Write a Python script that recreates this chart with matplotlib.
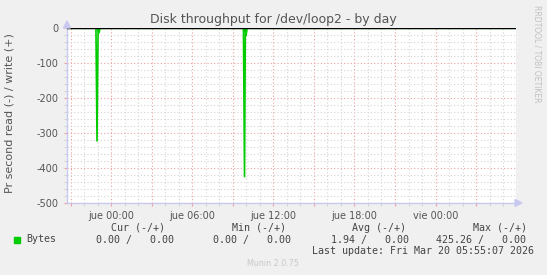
import matplotlib
matplotlib.use("Agg")
import matplotlib.pyplot as plt
from matplotlib.patches import Polygon, Rectangle

# hours relative to jue 00:00, read bytes/s (plotted negative), write bytes/s
hours = [-3.26, -1.12, -1.04, -0.96, -0.89, -0.82, 9.79, 9.87, 9.93, 9.99, 10.06, 29.95]
read_bytes = [0, 0, 323, 0, 13, 0, 0, 425.26, 0, 20, 0, 0]
write_bytes = [0, 0, 0, 0, 0, 0, 0, 0, 0, 0, 0, 0]

y_ticks = [0, -100, -200, -300, -400, -500]
x_label_hours = [0, 6, 12, 18, 24]
x_labels = ["jue 00:00", "jue 06:00", "jue 12:00", "jue 18:00", "vie 00:00"]

legend_headers = ["Cur (-/+)", "Min (-/+)", "Avg (-/+)", "Max (-/+)"]
legend_values = ["0.00 /   0.00", "0.00 /   0.00", "1.94 /   0.00", "425.26 /   0.00"]

W, H = 547, 275
BG = "#f0f0f0"
GREEN = "#00cc00"
AXIS = "#c8c8f0"
TXT = "#555555"

fig = plt.figure(figsize=(W / 100, H / 100), dpi=100, facecolor=BG)

def px(x, y):
    return x / W, 1 - y / H

ax = fig.add_axes([67 / W, 1 - 202.7 / H, 449 / W, (202.7 - 28.3) / H])
ax.set_facecolor("white")
ax.set_xlim(-3.26, 29.95)
ax.set_ylim(-500, 0)

# grid
ax.set_xticks([h for h in range(-3, 30)], minor=True)
ax.set_xticks([h for h in range(-3, 30, 3)])
ax.set_xticklabels([x_labels[x_label_hours.index(h)] if h in x_label_hours else ""
                    for h in range(-3, 30, 3)])
ax.set_yticks(range(-500, 1, 20), minor=True)
ax.set_yticks(y_ticks)
ax.set_yticklabels([str(v) for v in y_ticks])
ax.grid(which="minor", color="#d4d4d4", linestyle=(0, (1, 2)), linewidth=0.8)
ax.grid(which="major", color="#eea0a0", linestyle=(0, (1, 2)), linewidth=0.8)
ax.set_axisbelow(True)
ax.tick_params(which="both", length=2, width=0.8, color="#eea0a0", labelsize=7,
               labelcolor=TXT, pad=4)
ax.tick_params(which="minor", color="#d4d4d4")

for s in ["top", "right"]:
    ax.spines[s].set_visible(False)
for s in ["left", "bottom"]:
    ax.spines[s].set_color(AXIS)
    ax.spines[s].set_linewidth(1)

ax.plot(hours, [-v for v in read_bytes], color=GREEN, lw=1.2, zorder=3)
ax.plot(hours, write_bytes, color=GREEN, lw=1.2, zorder=3)
ax.axhline(0, color="black", lw=1, zorder=4)

# axis arrows
fig.patches.append(Polygon([px(63.5, 28), px(70.5, 28), px(67, 21)], closed=True,
                           transform=fig.transFigure, color=AXIS))
fig.patches.append(Polygon([px(515, 199.5), px(515, 206.5), px(522, 203)], closed=True,
                           transform=fig.transFigure, color=AXIS))

fig.text(*px(273, 19), "Disk throughput for /dev/loop2 - by day", ha="center", va="center",
         fontsize=9, color=TXT)
fig.text(*px(10, 113.5), "Pr second read (-) / write (+)", rotation=90, ha="center",
         va="center", fontsize=8, color=TXT)
fig.text(*px(537, 53.5), "RRDTOOL / TOBI OETIKER", rotation=270, ha="center", va="center",
         fontsize=5.5, color="#c0c0c0")

mono = dict(family="DejaVu Sans Mono", fontsize=7.2, color="#444444", va="center")
fig.patches.append(Rectangle(px(14, 243), 6 / W, 6 / H, transform=fig.transFigure,
                             color=GREEN))
fig.text(*px(26.5, 239.5), "Bytes", **mono)
header_x = [110.7, 231.7, 352, 472.7]
value_x = [95.7, 212.7, 331, 436]
for hx, htxt in zip(header_x, legend_headers):
    fig.text(*px(hx, 228), htxt, **mono)
for vx, vtxt in zip(value_x, legend_values):
    fig.text(*px(vx, 239.5), vtxt, **mono)
fig.text(*px(311.7, 251), "Last update: Fri Mar 20 05:55:07 2026", **mono)
fig.text(*px(273, 264), "Munin 2.0.75", ha="center", va="center", fontsize=5.8,
         color="#c8c8c8")

fig.savefig("out.png", dpi=100, facecolor=BG)
